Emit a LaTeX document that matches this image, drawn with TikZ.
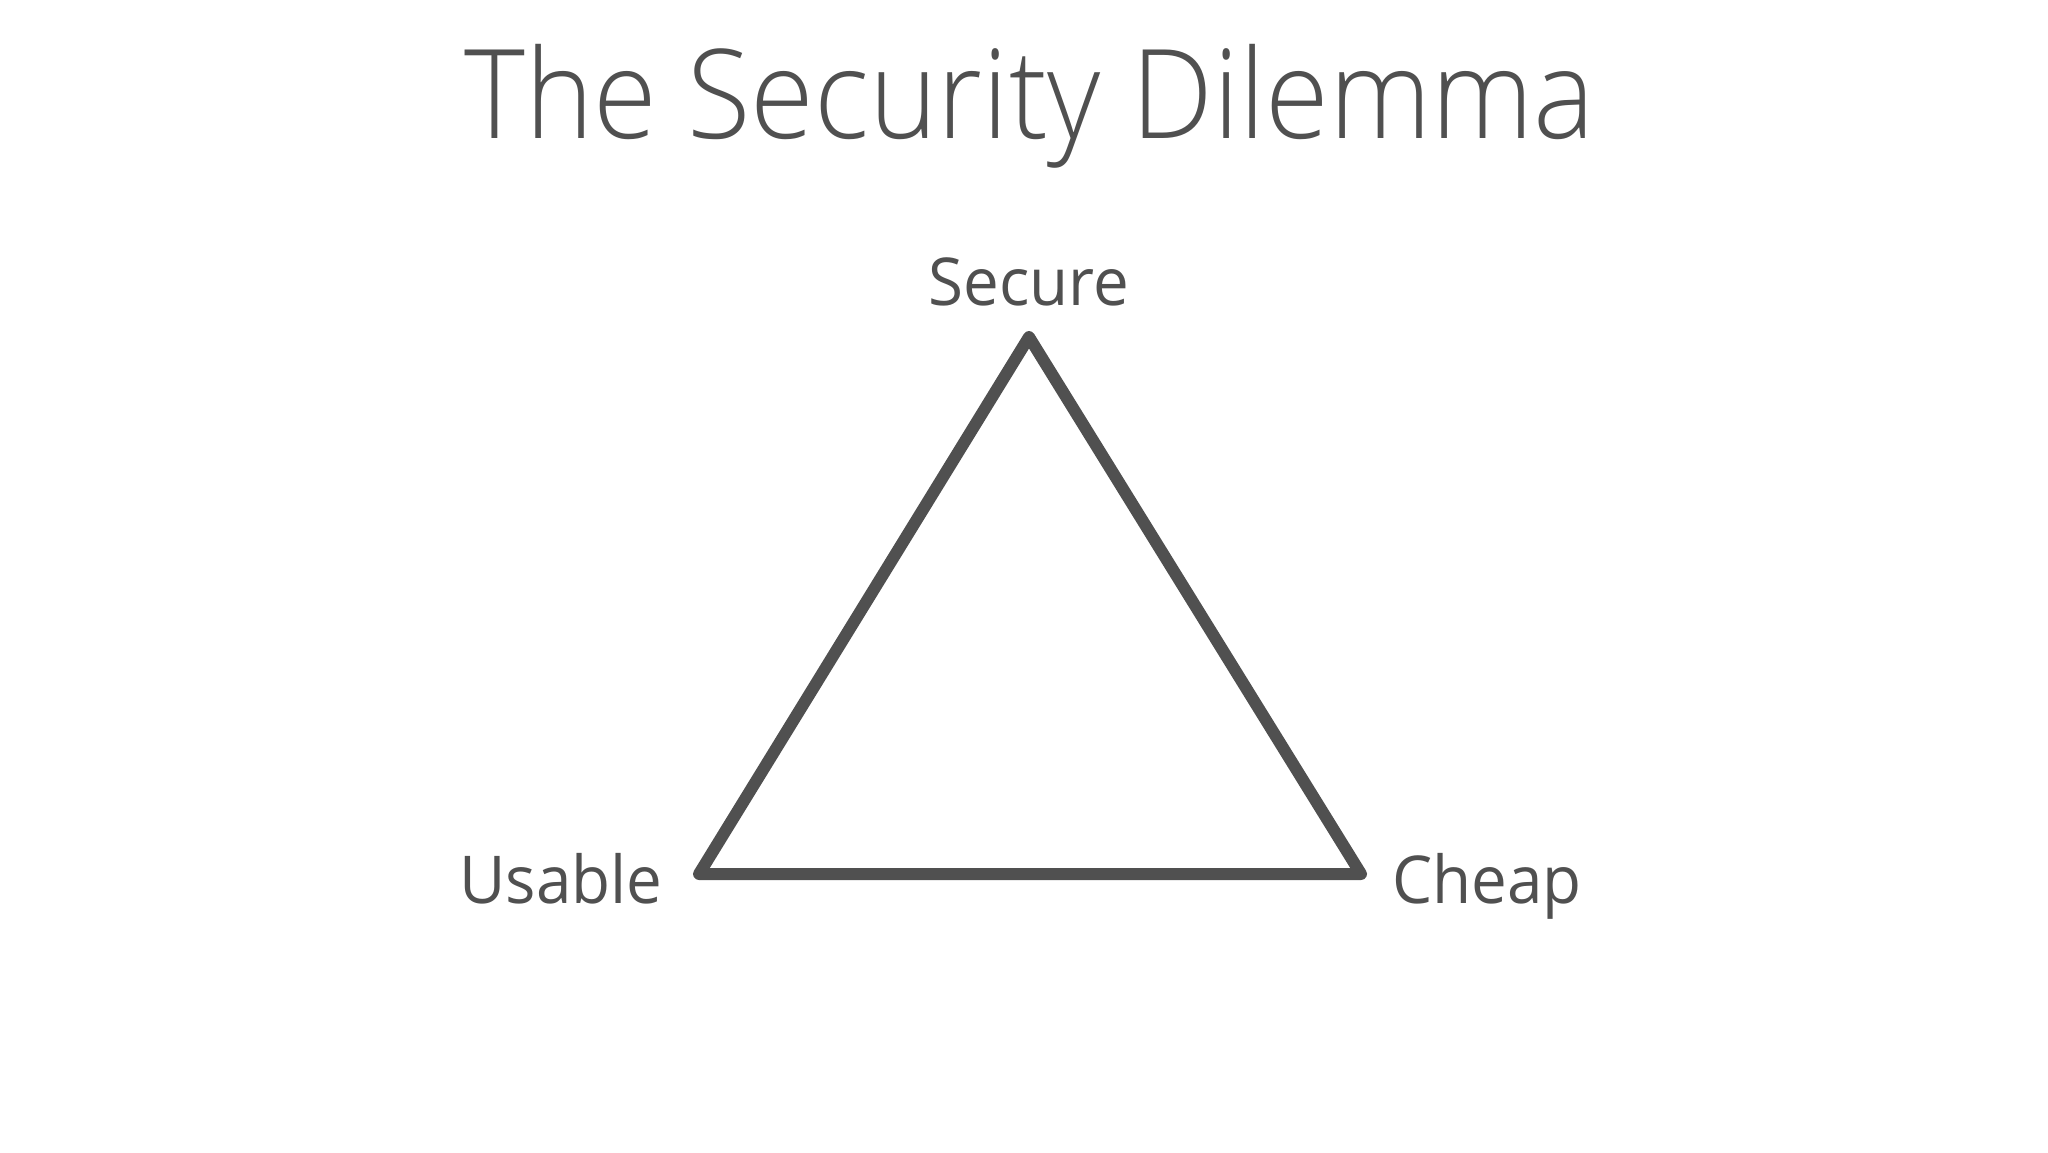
\documentclass[tikz,border=0pt]{standalone}
\usepackage{fontspec}
\setmainfont{Open Sans}[FakeStretch=0.965]
\newfontfamily\titlefont{Open Sans Light}[FakeStretch=0.935]
\definecolor{ink}{HTML}{505050}
\begin{document}
\begin{tikzpicture}[x=0.5pt,y=-0.5pt,
  titletext/.style={font=\titlefont\fontsize{62}{70}\selectfont, text=ink, inner sep=0pt},
  labeltext/.style={font=\fontsize{33}{38}\selectfont, text=ink, inner sep=0pt},
  edge/.style={draw=ink, line width=6pt, line join=round, line cap=round}]
\useasboundingbox (0,0) rectangle (2048,1152);
\node[titletext, anchor=base] (title) at (1030,138) {The Security Dilemma};
\coordinate (top) at (1029,337);
\coordinate (left) at (699,874);
\coordinate (right) at (1361,874);
\node[labeltext, anchor=base] (secure) at (1029,305) {Secure};
\node[labeltext, anchor=base east] (usable) at (663,903) {Usable};
\node[labeltext, anchor=base west] (cheap) at (1392,903) {Cheap};
\draw[edge] (top) -- (right) -- (left) -- cycle;
\end{tikzpicture}
\end{document}
